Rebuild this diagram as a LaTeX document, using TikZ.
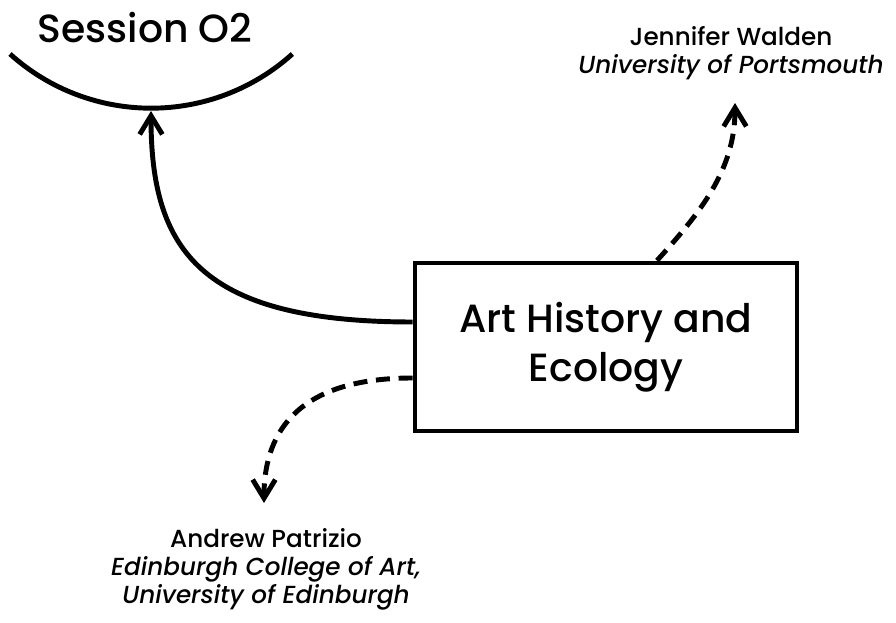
\documentclass[tikz,border=0pt]{standalone}
\usepackage{fontspec}
\setmainfont{Poppins}[UprightFont=* Medium, ItalicFont=* Medium Italic]
\usetikzlibrary{arrows.meta,calc}

\begin{document}
\begin{tikzpicture}[x=0.75pt,y=0.75pt,
  line width=3.7pt,
  topic/.style={draw, rectangle, minimum width=286.5pt, minimum height=126pt,
    inner sep=0pt, align=center, font=\fontsize{29.5pt}{37pt}\selectfont},
  title/.style={inner sep=0pt, font=\fontsize{29.5pt}{37pt}\selectfont},
  person/.style={inner sep=0pt, align=center, font=\fontsize{18.5pt}{21pt}\selectfont},
  link/.style={-{Straight Barb[length=14pt,width=17pt]}},
  contrib/.style={link, dash pattern=on 10.5pt off 6.5pt}
]
\useasboundingbox (0,0) rectangle (896,-623);

% session heading and its bowl
\node[title, anchor=base] (session) at (145,-43) {Session O2};
\draw (10,-54) arc[start angle=228, end angle=312, radius=211];
\coordinate (bowl) at (151,-111);

% central topic
\node[topic] (topic) at (606,-347) {Art History and\\Ecology};

% contributors
\node[person, anchor=north] (walden) at (731,-24)
  {Jennifer Walden\\\itshape University of Portsmouth};
\node[person, anchor=north] (patrizio) at (266,-526)
  {Andrew Patrizio\\\itshape Edinburgh College of Art,\\\itshape University of Edinburgh};
\coordinate (waldenin) at (735,-103);
\coordinate (patrizioin) at (264,-503);

% connectors
\draw[link] ($(topic.west)+(0,25)$) .. controls (200,-322) and (151,-250) .. (bowl);
\draw[contrib] ($(topic.north)+(51,0)$) .. controls (700,-213) and (735,-170) .. (waldenin);
\draw[contrib] ($(topic.west)+(0,-31)$) .. controls (300,-378) and (264,-430) .. (patrizioin);
\end{tikzpicture}
\end{document}
